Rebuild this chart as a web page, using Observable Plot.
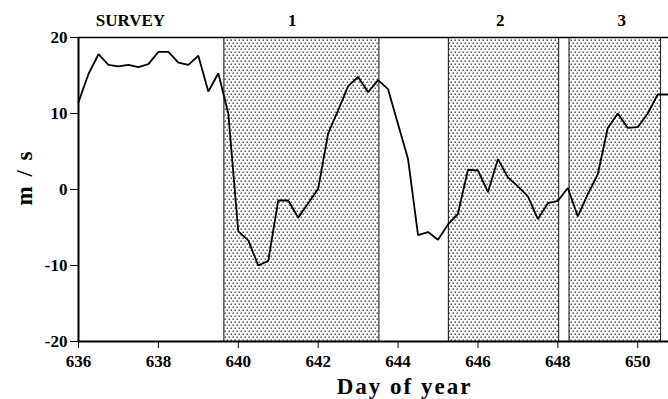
<!DOCTYPE html>
<html>
<head>
<meta charset="utf-8">
<script src="https://cdn.jsdelivr.net/npm/d3@7"></script>
<script src="https://cdn.jsdelivr.net/npm/@observablehq/plot@0.6"></script>
<style>
  html, body { margin: 0; padding: 0; background: #fff; }
  #chart svg { display: block; }
</style>
</head>
<body>
<div id="chart"></div>
<script>
// Day of year (6-hourly samples)
const days = [
  636.00, 636.25, 636.50, 636.75, 637.00, 637.25, 637.50, 637.75,
  638.00, 638.25, 638.50, 638.75, 639.00, 639.25, 639.50, 639.75,
  640.00, 640.25, 640.50, 640.75, 641.00, 641.25, 641.50, 641.75,
  642.00, 642.25, 642.50, 642.75, 643.00, 643.25, 643.50, 643.75,
  644.00, 644.25, 644.50, 644.75, 645.00, 645.25, 645.50, 645.75,
  646.00, 646.25, 646.50, 646.75, 647.00, 647.25, 647.50, 647.75,
  648.00, 648.25, 648.50, 648.75, 649.00, 649.25, 649.50, 649.75,
  650.00, 650.25, 650.50, 650.75
];
// Velocity, m/s
const speed = [
  11.5, 15.2, 17.8, 16.4, 16.2, 16.4, 16.1, 16.5,
  18.1, 18.1, 16.7, 16.4, 17.6, 12.9, 15.3, 10.0,
  -5.5, -6.7, -10.0, -9.4, -1.45, -1.45, -3.7, -1.8,
  0.1, 7.4, 10.4, 13.6, 14.8, 12.8, 14.4, 13.2,
  8.6, 4.0, -6.0, -5.6, -6.6, -4.6, -3.2, 2.6,
  2.5, -0.35, 4.0, 1.6, 0.4, -0.9, -3.9, -1.8,
  -1.5, 0.2, -3.55, -0.6, 2.0, 8.1, 10.0, 8.1,
  8.2, 10.0, 12.5, 12.5
];

// Shaded deployment periods
const periodStart = [639.64, 645.26, 648.28];
const periodEnd   = [643.52, 648.02, 650.57];

// Segment names across the top
const segmentNames = ["SURVEY", "1", "2", "3"];
const segmentDay   = [637.30, 641.35, 646.56, 649.60];

const xTicks = [636, 638, 640, 642, 644, 646, 648, 650];
const yTicks = [-20, -10, 0, 10, 20];

const series = days.map((d, i) => ({day: d, v: speed[i]}));
const periods = periodStart.map((s, i) => ({x1: s, x2: periodEnd[i]}));
const borders = periodStart.concat(periodEnd);
const segments = segmentNames.map((n, i) => ({name: n, day: segmentDay[i]}));

const serif = "'Liberation Serif', 'Times New Roman', serif";

const chart = Plot.plot({
  width: 668,
  height: 399,
  marginTop: 37,
  marginBottom: 58,
  marginLeft: 78,
  marginRight: 0,
  style: {fontFamily: serif, fontSize: "17px", fontWeight: "bold", background: "#fff", color: "#000", overflow: "visible"},
  x: {domain: [636, 650.77], ticks: xTicks, tickFormat: d => String(d)},
  y: {domain: [-20, 20], ticks: yTicks, tickFormat: d => String(d)},
  marks: [
    Plot.rect(periods, {x1: "x1", x2: "x2", y1: -20, y2: 20, fill: "url(#dots)"}),
    Plot.ruleX(borders, {y1: -20, y2: 20, stroke: "#222", strokeWidth: 1.1}),
    Plot.ruleY([20], {stroke: "#000", strokeWidth: 1.6}),
    Plot.ruleY([-20], {stroke: "#000", strokeWidth: 2}),
    Plot.ruleX([636], {y1: -20, y2: 20, stroke: "#000", strokeWidth: 2}),
    Plot.axisX({ticks: xTicks, tickFormat: d => String(d), tickSize: 7, tickPadding: 6, label: null, fontSize: 17, fontWeight: "bold"}),
    Plot.axisY({ticks: yTicks, tickFormat: d => String(d), tickSize: 8, tickPadding: 3, label: null, fontSize: 17, fontWeight: "bold"}),
    Plot.line(series, {x: "day", y: "v", stroke: "#000", strokeWidth: 1.8, strokeLinejoin: "miter"}),
    Plot.text(segments, {x: "day", y: 20, text: "name", dy: -12, lineAnchor: "bottom", fontSize: 17, fontWeight: "bold"}),
    Plot.text(["Day\u00a0of\u00a0year"], {frameAnchor: "bottom", dx: 31, dy: 52, lineAnchor: "bottom", fontSize: 23, fontWeight: "bold"}),
    Plot.text(["m\u00a0/\u00a0s"], {frameAnchor: "left", dx: -54, dy: 16, rotate: -90, fontSize: 23, fontWeight: "bold"})
  ]
});

// Stipple fill for the shaded periods
const defs = d3.select(chart).insert("defs", ":first-child");
const pat = defs.append("pattern")
  .attr("id", "dots")
  .attr("patternUnits", "userSpaceOnUse")
  .attr("width", 4)
  .attr("height", 6);
pat.append("rect").attr("width", 4).attr("height", 6).attr("fill", "#fff");
pat.append("rect").attr("x", 0.5).attr("y", 0.5).attr("width", 1.4).attr("height", 1.4).attr("fill", "#333");
pat.append("rect").attr("x", 2.5).attr("y", 3.5).attr("width", 1.4).attr("height", 1.4).attr("fill", "#333");

// Wider letter spacing on the axis titles
d3.select(chart).selectAll("text").each(function () {
  const t = this.textContent;
  if (t.startsWith("Day") || t.startsWith("m")) this.style.letterSpacing = "2px";
});

document.getElementById("chart").appendChild(chart);
</script>
</body>
</html>
